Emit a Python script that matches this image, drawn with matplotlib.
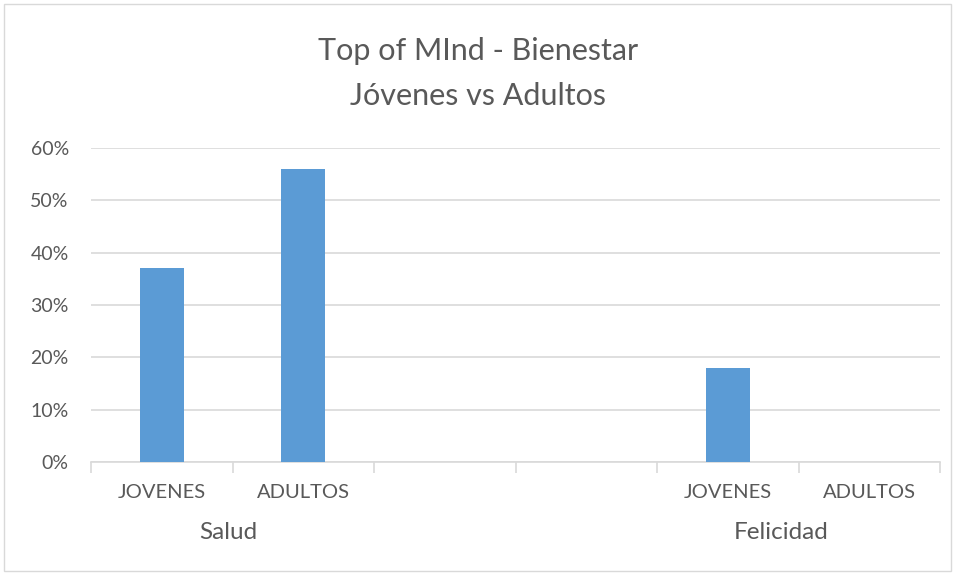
import matplotlib.pyplot as plt
import matplotlib.patches as patches
import numpy as np

# data
categories = ["JOVENES", "ADULTOS", "", "", "JOVENES", "ADULTOS"]
values = [0.37, 0.56, np.nan, np.nan, 0.18, 0.0]
groups = ["Salud", "Felicidad"]
group_pos = [0.47, 4.38]
yticks = [0, 0.1, 0.2, 0.3, 0.4, 0.5, 0.6]

plt.rcParams['font.family'] = ['Lato', 'DejaVu Sans']
txt = "#595959"
grid = "#d9d9d9"

fig = plt.figure(figsize=(9.56, 5.75), dpi=100)
ax = fig.add_axes([91/956, 1 - 462/575, (940 - 91)/956, (462 - 148)/575])

x = np.arange(len(categories))
ax.bar(x, np.nan_to_num(values), width=0.31, color="#5b9bd5", zorder=3)

ax.set_xlim(-0.5, len(categories) - 0.5)
ax.set_ylim(0, 0.6)
ax.set_yticks(yticks)
ax.set_yticklabels([f"{int(round(v*100))}%" for v in yticks], color=txt, fontsize=14)
ax.yaxis.grid(True, color=grid, linewidth=1.2, zorder=0)
ax.tick_params(axis="y", length=0, pad=16)

ax.set_xticks(np.arange(len(categories) + 1) - 0.5)
ax.set_xticklabels([])
ax.tick_params(axis="x", length=8, color=grid, width=1.2)
for i, c in enumerate(categories):
    ax.text(i, -0.058, c, ha="center", va="center", color=txt, fontsize=14.5,
            transform=ax.transData, clip_on=False)
for g, p in zip(groups, group_pos):
    ax.text(p, -0.134, g, ha="center", va="center", color=txt, fontsize=17.5,
            transform=ax.transData, clip_on=False)

for s in ["top", "right", "left"]:
    ax.spines[s].set_visible(False)
ax.spines["bottom"].set_color(grid)
ax.spines["bottom"].set_linewidth(1.2)

fig.text(0.5, 1 - 51/575, "Top of MInd - Bienestar", ha="center", va="center",
         color=txt, fontsize=22)
fig.text(0.5, 1 - 96/575, "Jóvenes vs Adultos", ha="center", va="center",
         color=txt, fontsize=22)

fig.patches.append(patches.Rectangle((4/956, 4/575), 947/956, 567/575,
                                     transform=fig.transFigure, fill=False,
                                     edgecolor=grid, linewidth=1))

plt.savefig("out.png", dpi=100)
